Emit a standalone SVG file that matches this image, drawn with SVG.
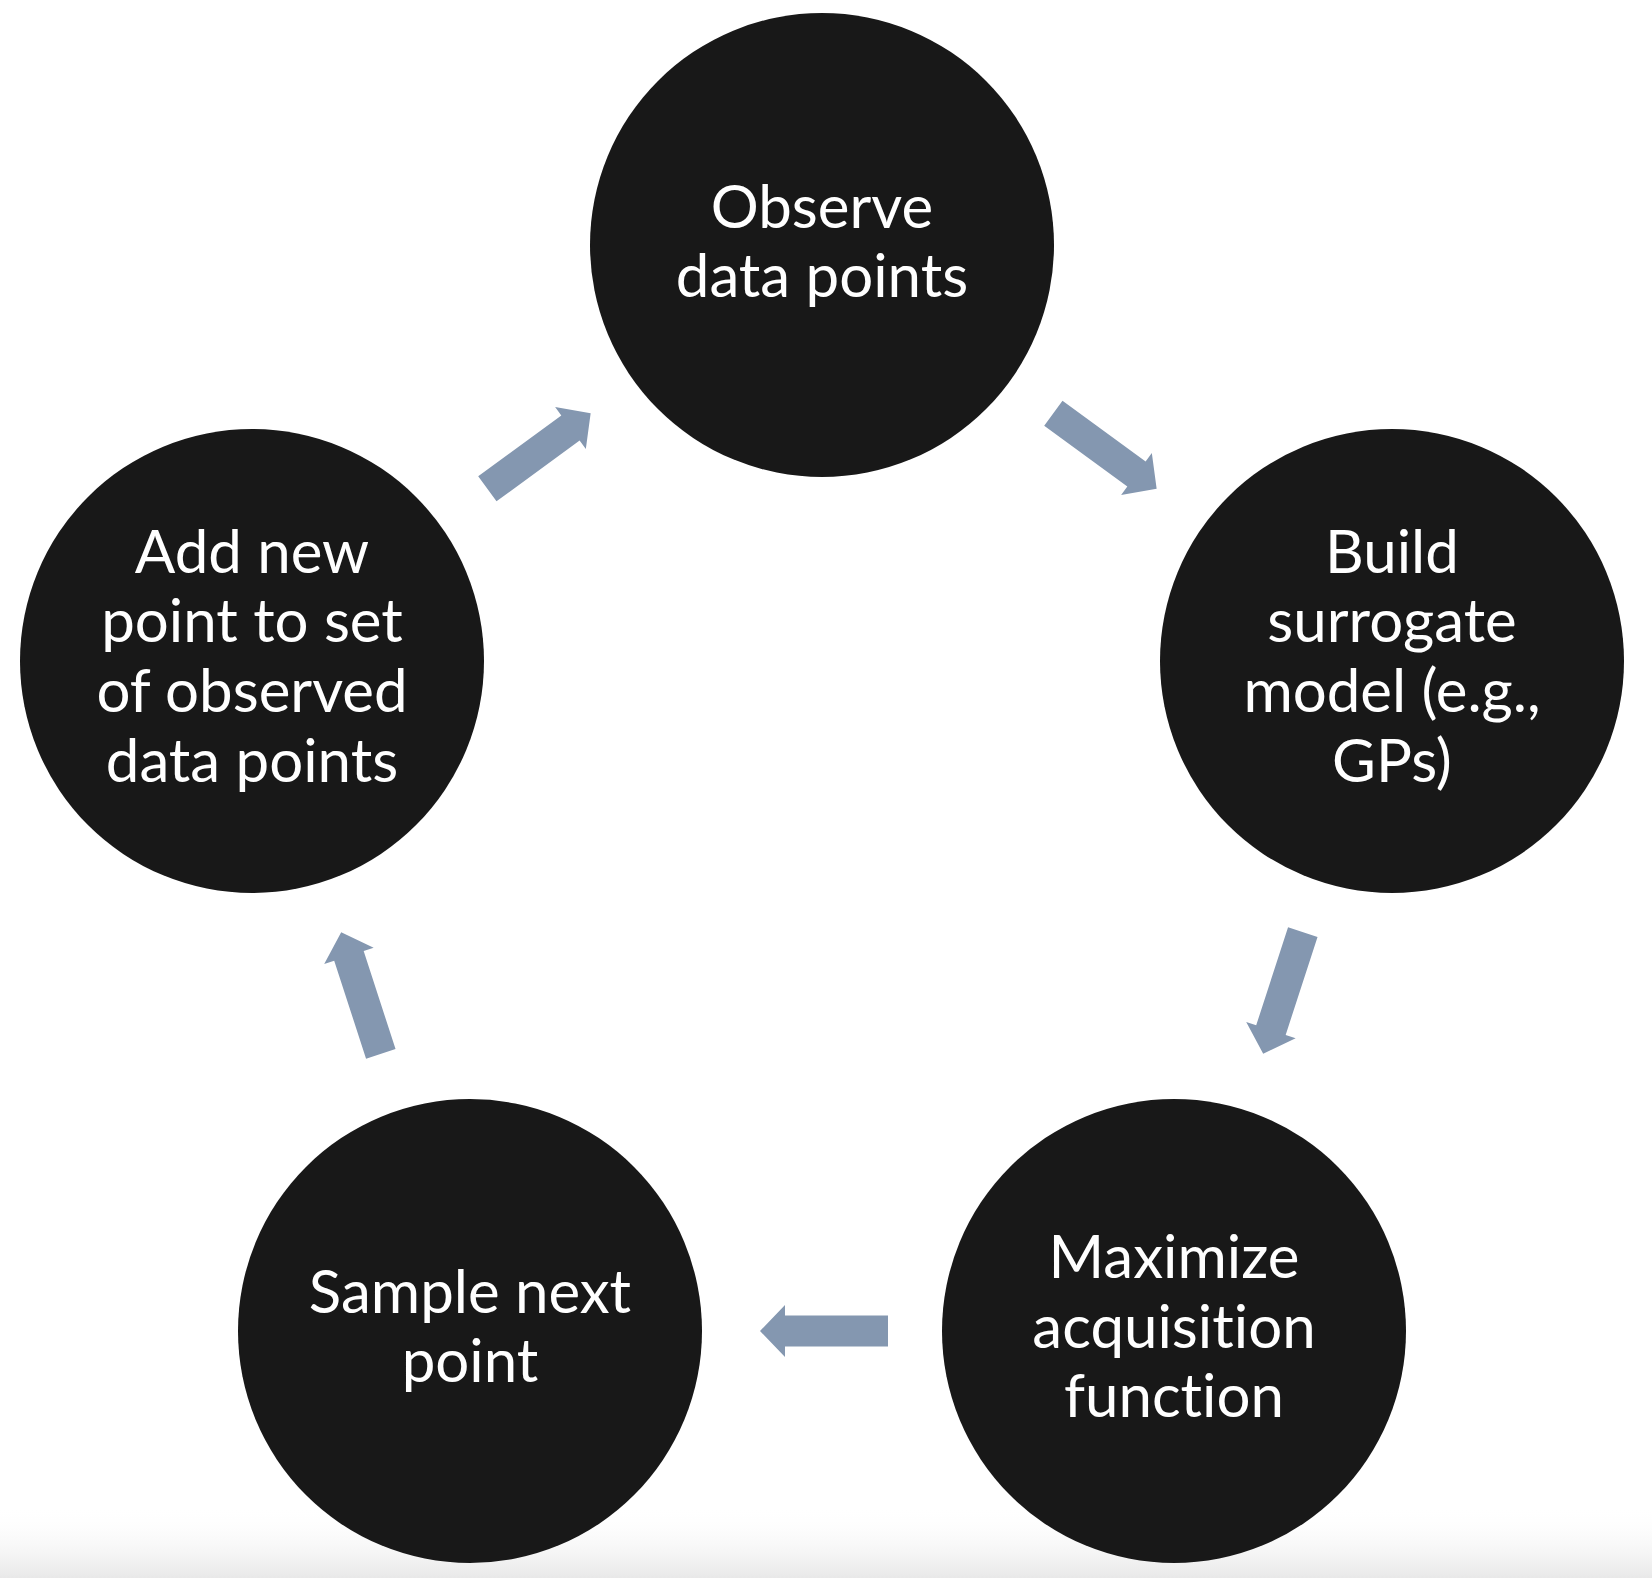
<svg xmlns="http://www.w3.org/2000/svg" width="1652" height="1578" viewBox="0 0 1652 1578">
  <style>
    .node { fill: #181818; }
    .label { fill: #ffffff; font-family: Lato, "Liberation Sans", sans-serif; font-size: 60px; text-anchor: middle; font-variant-ligatures: none; font-feature-settings: "liga" 0, "clig" 0; }
    .arrow { fill: #8497B0; }
  </style>
  <defs>
    <path id="blockArrow" d="M-64,-15.5 L39,-15.5 L39,-26 L64,0 L39,26 L39,15.5 L-64,15.5 Z"/>
    <linearGradient id="bottomShade" x1="0" y1="0" x2="0" y2="1">
      <stop offset="0" stop-color="#ffffff" stop-opacity="0"/>
      <stop offset="1" stop-color="#e8e8e8" stop-opacity="1"/>
    </linearGradient>
  </defs>
  <rect x="0" y="0" width="1652" height="1578" fill="#ffffff"/>
  <rect x="0" y="1505" width="1652" height="73" fill="url(#bottomShade)"/>

  <g id="connectors">
    <use href="#blockArrow" class="arrow" transform="translate(1105,451) rotate(36.19)"/>
    <use href="#blockArrow" class="arrow" transform="translate(1283,993) rotate(108.02)"/>
    <use href="#blockArrow" class="arrow" transform="translate(824,1331) rotate(180)"/>
    <use href="#blockArrow" class="arrow" transform="translate(361,993) rotate(-108.02)"/>
    <use href="#blockArrow" class="arrow" transform="translate(539,451) rotate(-36.19)"/>
  </g>

  <g id="node-observe">
    <circle class="node" cx="822" cy="245" r="232"/>
    <text class="label" x="822" y="228">Observe</text>
    <text class="label" x="822" y="297">data points</text>
  </g>

  <g id="node-build">
    <circle class="node" cx="1392" cy="661" r="232"/>
    <text class="label" x="1392" y="573">Build</text>
    <text class="label" x="1392" y="642">surrogate</text>
    <text class="label" x="1392" y="712">model (e.g.,</text>
    <text class="label" x="1392" y="782">GPs)</text>
  </g>

  <g id="node-maximize">
    <circle class="node" cx="1174" cy="1331" r="232"/>
    <text class="label" x="1174" y="1278">Maximize</text>
    <text class="label" x="1174" y="1348">acquisition</text>
    <text class="label" x="1174" y="1417">function</text>
  </g>

  <g id="node-sample">
    <circle class="node" cx="470" cy="1331" r="232"/>
    <text class="label" x="470" y="1313">Sample next</text>
    <text class="label" x="470" y="1382">point</text>
  </g>

  <g id="node-add">
    <circle class="node" cx="252" cy="661" r="232"/>
    <text class="label" x="252" y="573">Add new</text>
    <text class="label" x="252" y="642">point to set</text>
    <text class="label" x="252" y="712">of observed</text>
    <text class="label" x="252" y="782">data points</text>
  </g>
</svg>
